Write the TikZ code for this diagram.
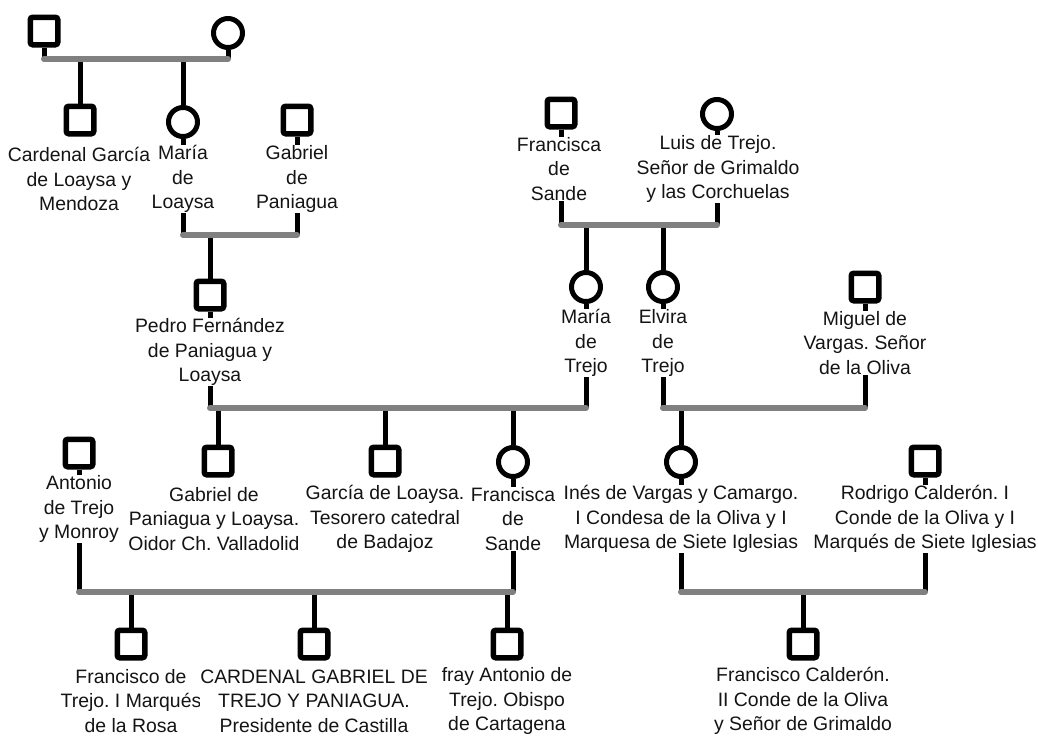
\documentclass[tikz,border=0pt]{standalone}
\usepackage{fontspec}
\setmainfont{Liberation Sans}
\definecolor{bargray}{RGB}{128,128,128}
\definecolor{txt}{RGB}{20,20,20}
\pgfdeclarelayer{bg}
\pgfsetlayers{bg,main}
\tikzset{
  male/.style={rectangle, draw=black, fill=white, line width=5.5pt, minimum size=27.5pt, inner sep=0pt, rounded corners=2.5pt},
  female/.style={circle, draw=black, fill=white, line width=5pt, minimum size=29pt, inner sep=0pt},
  lbl/.style={align=center, fill=white, inner sep=0.5pt, text=txt, font=\fontsize{19.4}{24.5}\selectfont\frenchspacing},
  stem/.style={draw=black, line width=5pt},
  bar/.style={draw=bargray, line width=6pt, line cap=round}
}
\begin{document}
\begin{tikzpicture}[x=1pt,y=-1pt]
\useasboundingbox (0,0) rectangle (1038,736);
% generation 1
\node[male] (a1) at (44,31) {};
\node[female] (a2) at (228,33) {};
% generation 2
\node[male] (b1) at (80,120) {};
\node[lbl] (b1l) at (79,179) {Cardenal García\\de Loaysa y\\Mendoza};
\node[female] (b2) at (183,122) {};
\node[lbl] (b2l) at (183,179) {María\\de\\Loaysa};
\node[male] (b3) at (297,120) {};
\node[lbl] (b3l) at (297,179) {Gabriel\\de\\Paniagua};
\node[male] (d1) at (561,113) {};
\node[lbl] (d1l) at (559,169) {Francisca\\de\\Sande};
\node[female] (d2) at (717,114) {};
\node[lbl] (d2l) at (718,169) {Luis de Trejo.\\Señor de Grimaldo\\y las Corchuelas};
% generation 3
\node[male] (c1) at (210,295) {};
\node[lbl] (c1l) at (210,352) {Pedro Fernández\\de Paniagua y\\Loaysa};
\node[female] (e1) at (586,287) {};
\node[lbl] (e1l) at (586,343) {María\\de\\Trejo};
\node[female] (e2) at (663,287) {};
\node[lbl] (e2l) at (663,343) {Elvira\\de\\Trejo};
\node[male] (e3) at (865,287) {};
\node[lbl] (e3l) at (865,343) {Miguel de\\Vargas. Señor\\de la Oliva};
% generation 4
\node[male] (h1) at (79,453) {};
\node[lbl] (h1l) at (79,509) {Antonio\\de Trejo\\y Monroy};
\node[male] (f1) at (218,461) {};
\node[lbl] (f1l) at (214,519) {Gabriel de\\Paniagua y Loaysa.\\Oidor Ch. Valladolid};
\node[male] (f2) at (385,461) {};
\node[lbl] (f2l) at (385,519) {García de Loaysa.\\Tesorero catedral\\de Badajoz};
\node[female] (f3) at (513,462) {};
\node[lbl] (f3l) at (513,519) {Francisca\\de\\Sande};
\node[female] (g1) at (681,462) {};
\node[lbl] (g1l) at (681,519) {Inés de Vargas y Camargo.\\I Condesa de la Oliva y I\\Marquesa de Siete Iglesias};
\node[male] (h2) at (925,461) {};
\node[lbl] (h2l) at (925,519) {Rodrigo Calderón. I\\Conde de la Oliva y I\\Marqués de Siete Iglesias};
% generation 5
\node[male] (i1) at (131,644) {};
\node[lbl] (i1l) at (131,701) {Francisco de\\Trejo. I Marqués\\de la Rosa};
\node[male] (i2) at (314,644) {};
\node[lbl] (i2l) at (314,701) {CARDENAL GABRIEL DE\\TREJO Y PANIAGUA.\\Presidente de Castilla};
\node[male] (i3) at (507,644) {};
\node[lbl] (i3l) at (507,701) {fray Antonio de\\Trejo. Obispo\\de Cartagena};
\node[male] (i4) at (803,644) {};
\node[lbl] (i4l) at (803,701) {Francisco Calderón.\\II Conde de la Oliva\\y Señor de Grimaldo};
% marriage bar levels
\coordinate (m1) at (0,59);
\coordinate (m2) at (0,235);
\coordinate (m3) at (0,225);
\coordinate (m4) at (0,408);
\coordinate (m5) at (0,408);
\coordinate (m6) at (0,592);
\coordinate (m7) at (0,592);
\begin{pgfonlayer}{bg}
\foreach \p/\m in {a1/m1,a2/m1,b2/m2,b3/m2,d1/m3,d2/m3,c1/m4,e1/m4,e2/m5,e3/m5,h1/m6,f3/m6,g1/m7,h2/m7}
  \draw[stem] (\p.south) -- (\p |- \m);
\foreach \c/\m in {b1/m1,b2/m1,c1/m2,e1/m3,e2/m3,f1/m4,f2/m4,f3/m4,g1/m5,i1/m6,i2/m6,i3/m6,i4/m7}
  \draw[stem] (\c |- \m) -- (\c.north);
\foreach \a/\b/\m in {a1/a2/m1,b2/b3/m2,d1/d2/m3,c1/e1/m4,e2/e3/m5,h1/f3/m6,g1/h2/m7}
  \draw[bar] (\a |- \m) -- (\b |- \m);
\end{pgfonlayer}
\end{tikzpicture}
\end{document}
